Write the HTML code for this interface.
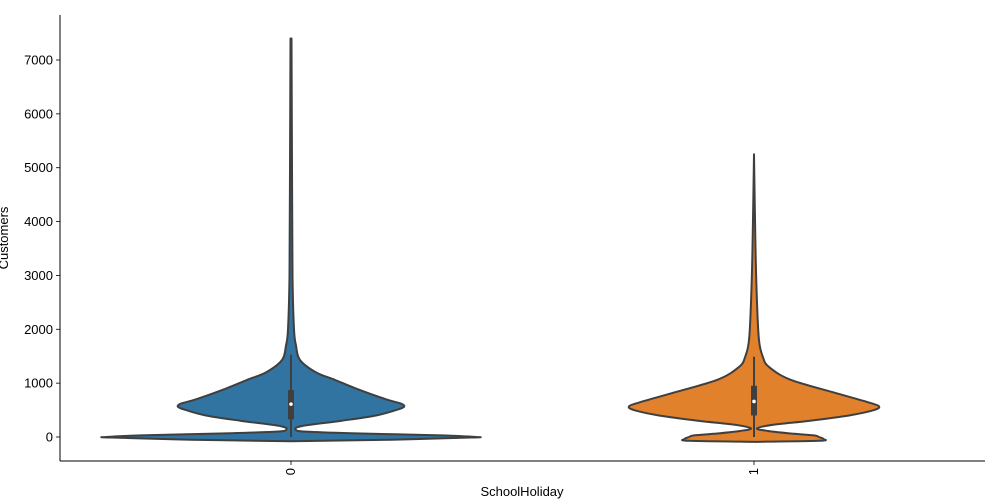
<!DOCTYPE html>
<html><head><meta charset="utf-8"><style>
body{margin:0;background:#fff;}
svg{display:block;font-family:"Liberation Sans","DejaVu Sans",sans-serif;}
</style></head><body>
<svg id="chart" width="1000" height="500">
<g id="axes"></g><g id="marks"></g>
</svg>
<script>
const categories = ["0", "1"];
const colors = ["#3274a1", "#e1812c"];
const yTicks = [0, 1000, 2000, 3000, 4000, 5000, 6000, 7000];
const densValues0 = [-80,-50,-10,0,30,70,100,130,200,300,400,500,560,620,700,900,1060,1200,1430,1700,2000,3000,5000,7400];
const densWidths0 = [0,100,180,185,150,60,15,5,10,50,85,105,113,110,95,65,44,25,9,5,3,1.5,1,0.5];
const densValues1 = [-90,-70,-40,0,30,60,110,160,230,300,400,500,570,640,800,1060,1300,1480,1800,2500,3500,5250];
const densWidths1 = [0,65,70,65,60,40,15,3,20,55,95,120,125,115,85,37,15,9,5,3,1.5,0];
const boxQ1 = [330, 400];
const boxMedian = [610, 660];
const boxQ3 = [870, 950];
const whiskerLow = [0, 0];
const whiskerHigh = [1530, 1490];

const NS = "http://www.w3.org/2000/svg";
const X0 = 60, X1 = 985, YT = 15, YB = 461;
const y = v => 437 - v * (377 / 7000);
const x = i => 291 + i * 463;
function mk(tag, attrs, parent) {
  const e = document.createElementNS(NS, tag);
  for (const k in attrs) e.setAttribute(k, attrs[k]);
  parent.appendChild(e);
  return e;
}
function smooth(pts) {
  let d = `M${pts[0][0]},${pts[0][1]}`;
  for (let i = 0; i < pts.length - 1; i++) {
    const p0 = pts[Math.max(0, i - 1)], p1 = pts[i], p2 = pts[i + 1], p3 = pts[Math.min(pts.length - 1, i + 2)];
    const c1 = [p1[0] + (p2[0] - p0[0]) / 6, p1[1] + (p2[1] - p0[1]) / 6];
    const c2 = [p2[0] - (p3[0] - p1[0]) / 6, p2[1] - (p3[1] - p1[1]) / 6];
    d += ` C${c1[0]},${c1[1]} ${c2[0]},${c2[1]} ${p2[0]},${p2[1]}`;
  }
  return d;
}
const axes = document.getElementById("axes");
const marks = document.getElementById("marks");

yTicks.forEach(t => {
  const l = mk("line", {x1: X0 - 4, x2: X0, y1: y(t), y2: y(t), stroke: "#000", "stroke-width": 0.8}, axes);
  
  
  const tx = mk("text", {x: X0 - 7, y: y(t) + 4.5, "text-anchor": "end", "font-size": 13}, axes);
  tx.textContent = t;
  
  
});
categories.forEach((c, i) => {
  const l = mk("line", {x1: x(i), x2: x(i), y1: YB, y2: YB + 4, stroke: "#000", "stroke-width": 0.8}, axes);
  
  
  const tx = mk("text", {x: 0, y: 0, "text-anchor": "end", "font-size": 13, transform: `translate(${x(i) + 4},${YB + 7}) rotate(-90)`}, axes);
  tx.textContent = c;
  
  
});
const sp1 = mk("line", {x1: X0, x2: X0, y1: YT, y2: YB, stroke: "#000", "stroke-width": 1}, axes);


const sp2 = mk("line", {x1: X0, x2: X1, y1: YB, y2: YB, stroke: "#000", "stroke-width": 1}, axes);


const xt = mk("text", {x: 522, y: 496, "text-anchor": "middle", "font-size": 13}, axes);
xt.textContent = "SchoolHoliday";


const yt = mk("text", {x: 0, y: 0, "text-anchor": "middle", "font-size": 13, transform: "translate(8,238) rotate(-90)"}, axes);
yt.textContent = "Customers";



const dv = [densValues0, densValues1], dw = [densWidths0, densWidths1];
categories.forEach((c, i) => {
  const cx = x(i), vs = dv[i], ws = dw[i];
  const right = vs.map((v, k) => [cx + ws[k], y(v)]);
  const left = vs.map((v, k) => [cx - ws[k], y(v)]).reverse();
  const d = smooth(right) + " L" + smooth(left).slice(1) + " Z";
  const p = mk("path", {d: d, fill: colors[i], stroke: "#3f3f3f", "stroke-width": 2, "stroke-linejoin": "round"}, marks);
  
  
  const w = mk("line", {x1: cx, x2: cx, y1: y(whiskerLow[i]), y2: y(whiskerHigh[i]), stroke: "#3f3f3f", "stroke-width": 2}, marks);
  
  
  const b = mk("rect", {x: cx - 3, y: y(boxQ3[i]), width: 6, height: y(boxQ1[i]) - y(boxQ3[i]), fill: "#3f3f3f"}, marks);
  
  
  const m = mk("circle", {cx: cx, cy: y(boxMedian[i]), r: 1.8, fill: "#fff"}, marks);
  
  
});
</script>
</body></html>
